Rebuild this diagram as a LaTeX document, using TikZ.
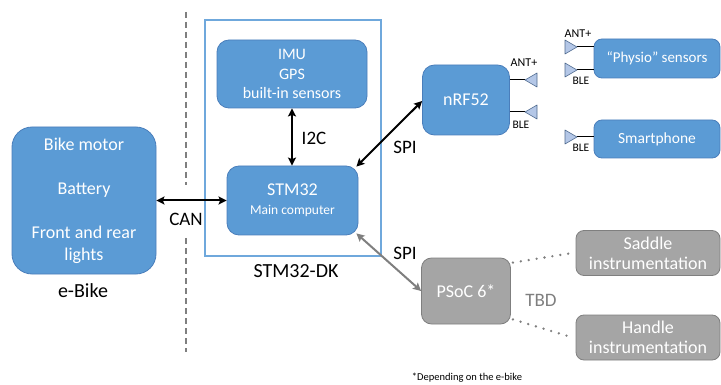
\documentclass[tikz,border=0pt]{standalone}
\usepackage{fontspec}
\setmainfont{Carlito}
\usetikzlibrary{arrows.meta,calc}
\definecolor{bfill}{HTML}{5B9BD5}
\definecolor{bdraw}{HTML}{4A7EBB}
\definecolor{gfill}{HTML}{A5A5A5}
\definecolor{gdraw}{HTML}{7F7F7F}
\definecolor{afill}{HTML}{B4C7E7}
\definecolor{adraw}{HTML}{4F6A8F}
\definecolor{frame}{HTML}{6FA8DC}
\newcommand{\myfs}[2]{\fontsize{#1}{#2}\selectfont}
\begin{document}
\begin{tikzpicture}[x=1pt,y=-1pt,
  box/.style={rectangle, line width=0.8pt, text=white, align=center, inner sep=0pt},
  bluebox/.style={box, draw=bdraw, fill=bfill},
  graybox/.style={box, draw=gdraw, fill=gfill},
  lbl/.style={inner sep=0pt, text=black},
  biarrow/.style={line width=2pt, {Stealth[length=8pt,width=8pt,inset=1.5pt]}-{Stealth[length=8pt,width=8pt,inset=1.5pt]}},
  grayarrow/.style={biarrow, draw=gdraw},
  dotline/.style={draw=gdraw, line width=2.6pt, line cap=round, dash pattern=on 0pt off 8pt},
  ant/.style={draw=adraw, fill=afill, line width=0.6pt, line join=round},
  antline/.style={draw=black, line width=1pt}]
\useasboundingbox (0,0) rectangle (721,385);

% dashed separator
\draw[gdraw, line width=1.3pt, dash pattern=on 6pt off 4pt] (186,12) -- (186,185);
\draw[gdraw, line width=1.3pt, dash pattern=on 6pt off 4pt] (186,238) -- (186,352);

% e-Bike
\node[bluebox, rounded corners=20pt, minimum width=144pt, minimum height=147pt,
      font=\myfs{18}{22}] (ebike) at (84,200.5)
      {Bike motor\\[22pt]Battery\\[22pt]Front and rear\\lights};
\node[lbl, font=\myfs{20}{22}] (ebikelbl) at (83,291) {e-Bike};

% STM32-DK frame
\node[rectangle, draw=frame, line width=1.2pt, minimum width=176pt, minimum height=236pt] (dk) at (293,138) {};
\node[lbl, font=\myfs{20}{22}] (dklbl) at (296,271) {STM32-DK};

\node[bluebox, rounded corners=12pt, minimum width=150pt, minimum height=68pt,
      font=\myfs{16}{19.5}] (imu) at (292,74) {IMU\\GPS\\built-in sensors};
\node[bluebox, rounded corners=12pt, minimum width=131pt, minimum height=69pt,
      font=\myfs{18}{19}] (stm) at (292.5,200.5)
      {STM32\\{\myfs{13.5}{19}Main computer}};

% nRF52
\node[bluebox, rounded corners=12pt, minimum width=87pt, minimum height=70pt,
      font=\myfs{18}{20}] (nrf) at (466,100) {nRF52};
\coordinate (nA) at (525,80);
\coordinate (nB) at (525,112);
\draw[antline] (nrf.east |- nA) -- (nA);
\draw[antline] (nrf.east |- nB) -- (nB);
\draw[ant] (nA) -- ++(12,-7) -- ++(0,14) -- cycle;
\draw[ant] (nB) -- ++(12,-7) -- ++(0,14) -- cycle;
\node[lbl, font=\myfs{12}{14}] (nAl) at (524,63) {ANT+};
\node[lbl, font=\myfs{11.5}{14}] (nBl) at (521,125) {BLE};

% Physio sensors
\node[bluebox, rounded corners=8pt, minimum width=126pt, minimum height=39pt,
      font=\myfs{15}{18}] (physio) at (657,58.5) {“Physio” sensors};
\coordinate (pA) at (577,47);
\coordinate (pB) at (577,70);
\draw[antline] (pA) -- (physio.west |- pA);
\draw[antline] (pB) -- (physio.west |- pB);
\draw[ant] (pA) -- ++(-12,-7) -- ++(0,14) -- cycle;
\draw[ant] (pB) -- ++(-12,-7) -- ++(0,14) -- cycle;
\node[lbl, font=\myfs{12}{14}] (pAl) at (578,34) {ANT+};
\node[lbl, font=\myfs{11.5}{14}] (pBl) at (581,81) {BLE};

% Smartphone
\node[bluebox, rounded corners=8pt, minimum width=126pt, minimum height=38pt,
      font=\myfs{15.5}{18}] (smart) at (657,139) {Smartphone};
\coordinate (sA) at (577,137);
\draw[antline] (sA) -- (smart.west |- sA);
\draw[ant] (sA) -- ++(-12,-7) -- ++(0,14) -- cycle;
\node[lbl, font=\myfs{11.5}{14}] (sAl) at (581,148) {BLE};

% PSoC and instrumentation
\node[graybox, rounded corners=10pt, minimum width=89pt, minimum height=66pt,
      font=\myfs{18}{20}] (psoc) at (466,291) {PSoC 6*};
\node[graybox, rounded corners=8pt, minimum width=144pt, minimum height=45pt,
      font=\myfs{18}{20}] (saddle) at (648,253) {Saddle\\instrumentation};
\node[graybox, rounded corners=8pt, minimum width=144pt, minimum height=45pt,
      font=\myfs{18}{20}] (handle) at (648,337.5) {Handle\\instrumentation};
\draw[dotline] ($(psoc.north east)+(2,5)$) -- ($(saddle.west)+(-3,0)$);
\draw[dotline] ($(psoc.south east)+(2,-5)$) -- ($(handle.west)+(-3,0)$);
\node[lbl, text=gdraw, font=\myfs{19}{20}] (tbd) at (541,300) {TBD};

% connectors
\draw[biarrow] (ebike.east) -- (stm.west);
\node[lbl, font=\myfs{19}{20}] (can) at (186,219) {CAN};
\draw[biarrow] (imu.south) -- (stm.north -| imu.south);
\node[lbl, font=\myfs{19}{20}] (i2c) at (314,138) {I2C};
\draw[biarrow] ($(stm.north east)+(-2,1)$) -- ($(nrf.west)+(0,1)$);
\node[lbl, font=\myfs{19}{20}] (spi1) at (405,147) {SPI};
\draw[grayarrow] ($(stm.south east)+(-2,-2)$) -- (psoc.west);
\node[lbl, font=\myfs{19}{20}] (spi2) at (405,253) {SPI};

\node[lbl, font=\myfs{10.5}{12}] (note) at (467,378) {*Depending on the e-bike};
\end{tikzpicture}
\end{document}
